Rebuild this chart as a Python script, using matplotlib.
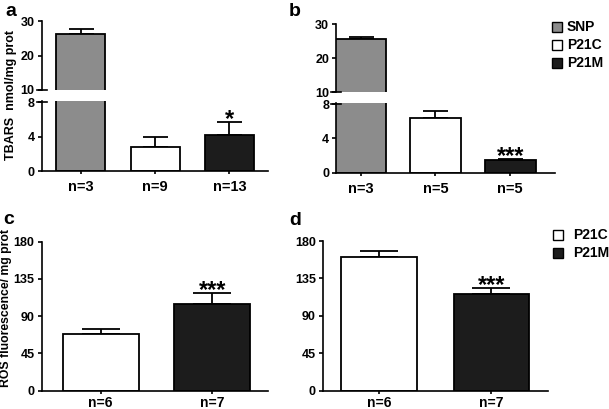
import matplotlib
matplotlib.use("Agg")
import matplotlib.pyplot as plt
from matplotlib.patches import Rectangle

plt.rcParams['font.family'] = ['Liberation Sans', 'DejaVu Sans']
plt.rcParams['font.weight'] = 'bold'

# ---------------- data ----------------
groups_ab = ["SNP", "P21C", "P21M"]
a_vals = [26.3, 2.8, 4.2]
a_err = [1.3, 1.2, 1.5]
a_n = ["n=3", "n=9", "n=13"]
a_sig = ["", "", "*"]

b_vals = [25.6, 6.4, 1.45]
b_err = [0.8, 0.8, 0.15]
b_n = ["n=3", "n=5", "n=5"]
b_sig = ["", "", "***"]

groups_cd = ["P21C", "P21M"]
c_vals = [68.0, 104.5]
c_err = [6.2, 13.2]
c_n = ["n=6", "n=7"]
c_sig = ["", "***"]

d_vals = [160.5, 116.3]
d_err = [7.5, 7.6]
d_n = ["n=6", "n=7"]
d_sig = ["", "***"]

colors = {"SNP": "#8c8c8c", "P21C": "#ffffff", "P21M": "#1c1c1c"}

W, H = 609, 409
fig = plt.figure(figsize=(W / 100, H / 100), dpi=100)
fig.patch.set_facecolor("white")


def rect(l, r, top, bot):
    return [l / W, 1 - bot / H, (r - l) / W, (bot - top) / H]


LW = 1.2


def style(ax, show_bottom=True, xpad=4, xsize=10.5):
    for s in ["top", "right"]:
        ax.spines[s].set_visible(False)
    ax.spines["left"].set_linewidth(LW)
    ax.spines["bottom"].set_linewidth(LW)
    ax.spines["bottom"].set_visible(show_bottom)
    ax.tick_params(axis="y", direction="out", length=3, width=LW, labelsize=9, pad=2)
    ax.tick_params(axis="x", direction="out", length=2.5, width=LW, labelsize=xsize, pad=xpad)
    for t in ax.get_yticklabels():
        t.set_fontweight("bold")
    ax.set_facecolor("none")


def bars(ax, vals, errs, groups, width, capsize):
    x = list(range(len(vals)))
    ax.bar(x, vals, width=width, color=[colors[g] for g in groups],
           edgecolor="black", linewidth=1.3, zorder=2)
    ax.errorbar(x, vals, yerr=[[0] * len(vals), errs], fmt="none",
                ecolor="black", elinewidth=1.3, capsize=capsize,
                capthick=1.3, zorder=1)
    return x


def stars(ax, vals, errs, sig, size):
    for i, s in enumerate(sig):
        if s:
            ax.annotate(s, (i, vals[i] + errs[i]), xytext=(0, -3),
                        textcoords="offset points", ha="center",
                        va="baseline", fontsize=size, fontweight="bold",
                        annotation_clip=False)


def broken(vals, errs, groups, nlab, sig, l, r, top_t, top_b, bot_t, bot_b,
           xlim, width, capsize, bot_ylim):
    axt = fig.add_axes(rect(l, r, top_t, top_b))
    axb = fig.add_axes(rect(l, r, bot_t, bot_b))
    for ax in (axt, axb):
        bars(ax, vals, errs, groups, width, capsize)
        ax.set_xlim(*xlim)
    axt.set_ylim(10, 30)
    axt.set_yticks([10, 20, 30])
    axb.set_ylim(0, bot_ylim)
    axb.set_yticks([0, 4, 8])
    style(axt, show_bottom=False)
    style(axb)
    axt.set_xticks([])
    axb.set_xticks(range(len(vals)))
    axb.set_xticklabels(nlab, fontweight="bold")
    # caps at the axis break
    dx = 5 / (r - l)
    axt.plot([-dx, dx], [0, 0], transform=axt.transAxes, color="black",
             lw=LW, clip_on=False)
    y8 = 8 / bot_ylim
    axb.plot([-dx, dx], [y8, y8], transform=axb.transAxes, color="black",
             lw=LW, clip_on=False)
    stars(axb, vals, errs, sig, 17)
    return axt, axb


# panel a
broken(a_vals, a_err, groups_ab, a_n, a_sig, 41.5, 268, 21, 90, 100.5, 171,
       (-0.53, 2.52), 0.66, 9, 8.2)
# panel b
broken(b_vals, b_err, groups_ab, b_n, b_sig, 336, 555, 24.3, 92.3, 103.2, 172.7,
       (-0.33, 2.6), 0.68, 9, 8.1)

# panel c
axc = fig.add_axes(rect(41.5, 268, 241.7, 390.7))
bars(axc, c_vals, c_err, groups_cd, 0.68, 13.5)
axc.set_xlim(-0.53, 1.5)
axc.set_ylim(0, 180)
axc.set_yticks([0, 45, 90, 135, 180])
style(axc, xpad=1.5, xsize=10)
axc.set_xticks([0, 1])
axc.set_xticklabels(c_n, fontweight="bold")
stars(axc, c_vals, c_err, c_sig, 17)

# panel d
axd = fig.add_axes(rect(322.7, 547.7, 241, 390.7))
bars(axd, d_vals, d_err, groups_cd, 0.67, 13.5)
axd.set_xlim(-0.5, 1.5)
axd.set_ylim(0, 180)
axd.set_yticks([0, 45, 90, 135, 180])
style(axd, xpad=1.5, xsize=10)
axd.set_xticks([0, 1])
axd.set_xticklabels(d_n, fontweight="bold")
stars(axd, d_vals, d_err, d_sig, 17)


def ftext(x, y, s, **kw):
    fig.text(x / W, 1 - y / H, s, fontweight="bold", **kw)


# panel letters
ftext(5, 11, "a", fontsize=14, va="center")
ftext(289, 11, "b", fontsize=14, va="center")
ftext(3, 219, "c", fontsize=14, va="center")
ftext(289, 220, "d", fontsize=14, va="center")

# y labels
ftext(11, 95, "TBARS  nmol/mg prot", fontsize=9, rotation=90,
      ha="center", va="center")
ftext(6.5, 308, "ROS fluorescence/ mg prot", fontsize=8.8, rotation=90,
      ha="center", va="center")


# legends
def legend(x_box, x_txt, ys, labels):
    for y, lab in zip(ys, labels):
        fig.add_artist(Rectangle(((x_box) / W, 1 - (y + 5) / H), 10 / W, 10 / H,
                                 transform=fig.transFigure,
                                 facecolor=colors[lab], edgecolor="black",
                                 linewidth=1.0))
        ftext(x_txt, y, lab, fontsize=10, va="center")


legend(552, 567, [27, 45, 63], groups_ab)
legend(553, 573, [235, 253], groups_cd)

fig.savefig("out.png", dpi=100, facecolor="white")
